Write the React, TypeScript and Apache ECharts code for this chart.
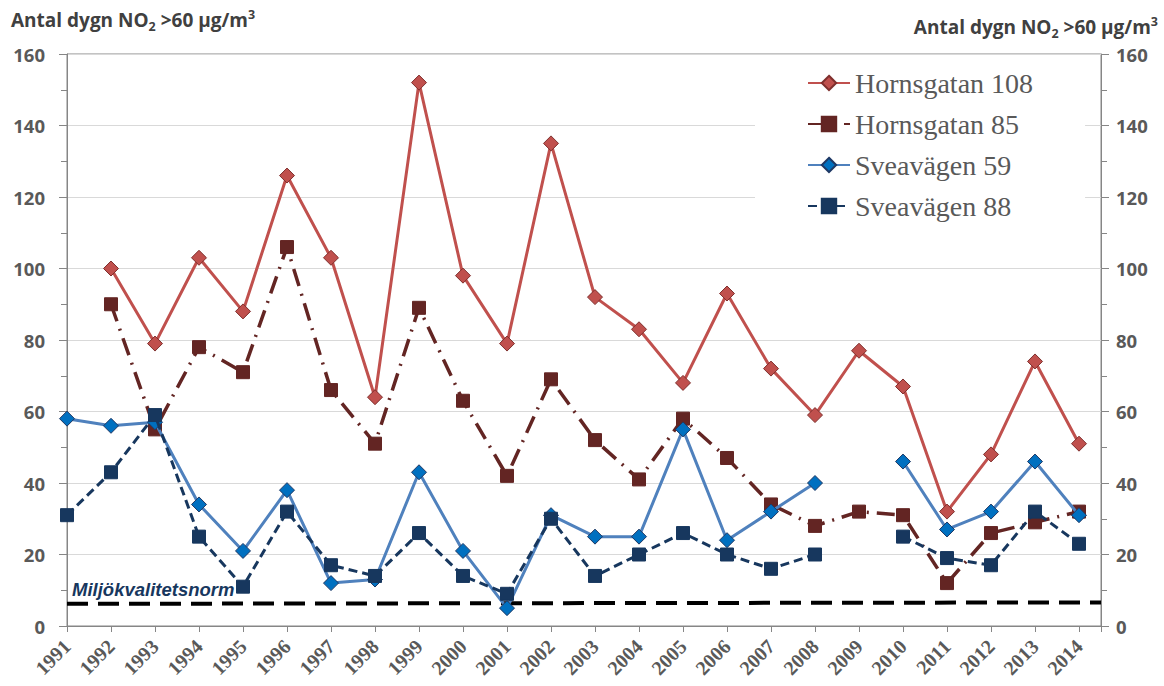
import React, { useEffect, useRef } from 'react';
import * as echarts from 'echarts';

const years = [1991, 1992, 1993, 1994, 1995, 1996, 1997, 1998, 1999, 2000, 2001, 2002, 2003, 2004, 2005, 2006, 2007, 2008, 2009, 2010, 2011, 2012, 2013, 2014];
const hornsgatan108 = [null, 100, 79, 103, 88, 126, 103, 64, 152, 98, 79, 135, 92, 83, 68, 93, 72, 59, 77, 67, 32, 48, 74, 51];
const hornsgatan85 = [null, 90, 55, 78, 71, 106, 66, 51, 89, 63, 42, 69, 52, 41, 58, 47, 34, 28, 32, 31, 12, 26, 29, 32];
const sveavagen59 = [58, 56, 57, 34, 21, 38, 12, 13, 43, 21, 5, 31, 25, 25, 55, 24, 32, 40, null, 46, 27, 32, 46, 31];
const sveavagen88 = [31, 43, 59, 25, 11, 32, 17, 14, 26, 14, 9, 30, 14, 20, 26, 20, 16, 20, null, 25, 19, 17, 32, 23];
const normYears = [1991, 2014.5];
const normValues = [6.2, 6.6];
const seriesNames = ['Hornsgatan 108', 'Hornsgatan 85', 'Sveavägen 59', 'Sveavägen 88'];
const normName = 'Miljökvalitetsnorm';
const axisTitle = ['Antal dygn NO', '2', ' >60 µg/m', '3'];

const pairs = (vals: (number | null)[]) => years.map((y, i) => [y, vals[i] == null ? '-' : vals[i]]);

const titleRich = {
  a: { fontFamily: 'Open Sans', fontWeight: 'bold', fontSize: 19, lineHeight: 25, fill: '#404040' },
  s: { fontFamily: 'Open Sans', fontWeight: 'bold', fontSize: 12.5, lineHeight: 12, verticalAlign: 'bottom', fill: '#404040' },
  p: { fontFamily: 'Open Sans', fontWeight: 'bold', fontSize: 12.5, lineHeight: 14, verticalAlign: 'top', fill: '#404040' },
};
const titleText = `{a|${axisTitle[0]}}{s|${axisTitle[1]}}{a|${axisTitle[2]}}{p|${axisTitle[3]}}`;

const yLabel = { fontFamily: 'Open Sans', fontWeight: 'bold', fontSize: 18.5, color: '#595959' };

export default function App() {
  const ref = useRef<HTMLDivElement>(null);
  useEffect(() => {
    const chart = echarts.init(ref.current!, null, { renderer: 'svg' });
    const option: any = {
      animation: false,
      backgroundColor: '#ffffff',
      grid: {
        left: 67, right: 63, top: 54, bottom: 60,
        show: true, borderColor: '#868686', borderWidth: 1,
        outerBoundsMode: 'none',
      },
      legend: {
        data: seriesNames,
        orient: 'vertical',
        left: 755,
        top: 58,
        padding: [10, 52, 10, 52],
        backgroundColor: '#ffffff',
        itemWidth: 42,
        itemHeight: 18,
        itemGap: 11,
        textStyle: { fontFamily: 'Liberation Serif', fontSize: 28, color: '#595959', lineHeight: 30 },
      },
      xAxis: {
        type: 'value',
        min: 1991,
        max: 2014.5,
        interval: 1,
        splitLine: { show: false },
        axisLine: { show: true, lineStyle: { color: '#868686', width: 1 } },
        axisTick: { show: true, length: 6, lineStyle: { color: '#868686' } },
        axisLabel: {
          rotate: 45,
          margin: 17,
          fontFamily: 'Liberation Serif',
          fontWeight: 'bold',
          fontSize: 20,
          color: '#595959',
          formatter: (v: number) => (Number.isInteger(v) ? String(v) : ''),
        },
      },
      yAxis: [
        {
          type: 'value', min: 0, max: 160, interval: 20, position: 'left',
          axisLine: { show: true, lineStyle: { color: '#868686', width: 1 } },
          axisTick: { show: true, length: 8, lineStyle: { color: '#868686' } },
          minorTick: { show: true, splitNumber: 2, length: 6, lineStyle: { color: '#868686' } },
          splitLine: { show: true, lineStyle: { color: '#D9D9D9', width: 1 } },
          axisLabel: { ...yLabel, margin: 22 },
        },
        {
          type: 'value', min: 0, max: 160, interval: 20, position: 'right',
          axisLine: { show: true, lineStyle: { color: '#868686', width: 1 } },
          axisTick: { show: true, length: 8, lineStyle: { color: '#868686' } },
          minorTick: { show: true, splitNumber: 2, length: 6, lineStyle: { color: '#868686' } },
          splitLine: { show: false },
          axisLabel: { ...yLabel, margin: 15 },
        },
      ],
      series: [
        {
          name: normName,
          type: 'line',
          data: normYears.map((y, i) => [y, normValues[i]]),
          symbol: 'none',
          silent: true,
          lineStyle: { color: '#000000', width: 4, type: [21, 10] },
          z: 1,
        },
        {
          name: seriesNames[0],
          type: 'line',
          data: pairs(hornsgatan108),
          symbol: 'diamond',
          symbolSize: 15,
          lineStyle: { color: '#C0504D', width: 3 },
          itemStyle: { color: '#C0504D', borderColor: '#7F2F2D', borderWidth: 1 },
          z: 2,
        },
        {
          name: seriesNames[1],
          type: 'line',
          data: pairs(hornsgatan85),
          symbol: 'rect',
          symbolSize: 13,
          lineStyle: { color: '#632523', width: 3.5, type: [18, 8, 2, 8] },
          itemStyle: { color: '#632523', borderColor: '#632523', borderWidth: 1 },
          z: 3,
        },
        {
          name: seriesNames[2],
          type: 'line',
          data: pairs(sveavagen59),
          symbol: 'diamond',
          symbolSize: 15,
          lineStyle: { color: '#4F81BD', width: 3 },
          itemStyle: { color: '#0070C0', borderColor: '#1F3864', borderWidth: 1 },
          z: 4,
        },
        {
          name: seriesNames[3],
          type: 'line',
          data: pairs(sveavagen88),
          symbol: 'rect',
          symbolSize: 13,
          lineStyle: { color: '#17375E', width: 3, type: [9, 5] },
          itemStyle: { color: '#17375E', borderColor: '#17375E', borderWidth: 1 },
          z: 5,
        },
      ],
      graphic: [
        {
          type: 'text',
          x: 11,
          y: 20,
          style: { text: titleText, rich: titleRich, align: 'left', verticalAlign: 'middle' },
        },
        {
          type: 'text',
          x: 1158,
          y: 27,
          style: { text: titleText, rich: titleRich, align: 'right', verticalAlign: 'middle' },
        },
        {
          type: 'text',
          x: 72,
          y: 589,
          z: 10,
          style: {
            text: normName,
            fontFamily: 'Liberation Sans',
            fontWeight: 'bold',
            fontStyle: 'italic',
            fontSize: 18.5,
            fill: '#17375E',
            align: 'left',
            verticalAlign: 'middle',
          },
        },
      ],
    };
    chart.setOption(option);
    return () => chart.dispose();
  }, []);
  return <div ref={ref} style={{ position: 'fixed', left: 0, top: 0, width: 1164, height: 686, background: '#fff' }} />;
}
